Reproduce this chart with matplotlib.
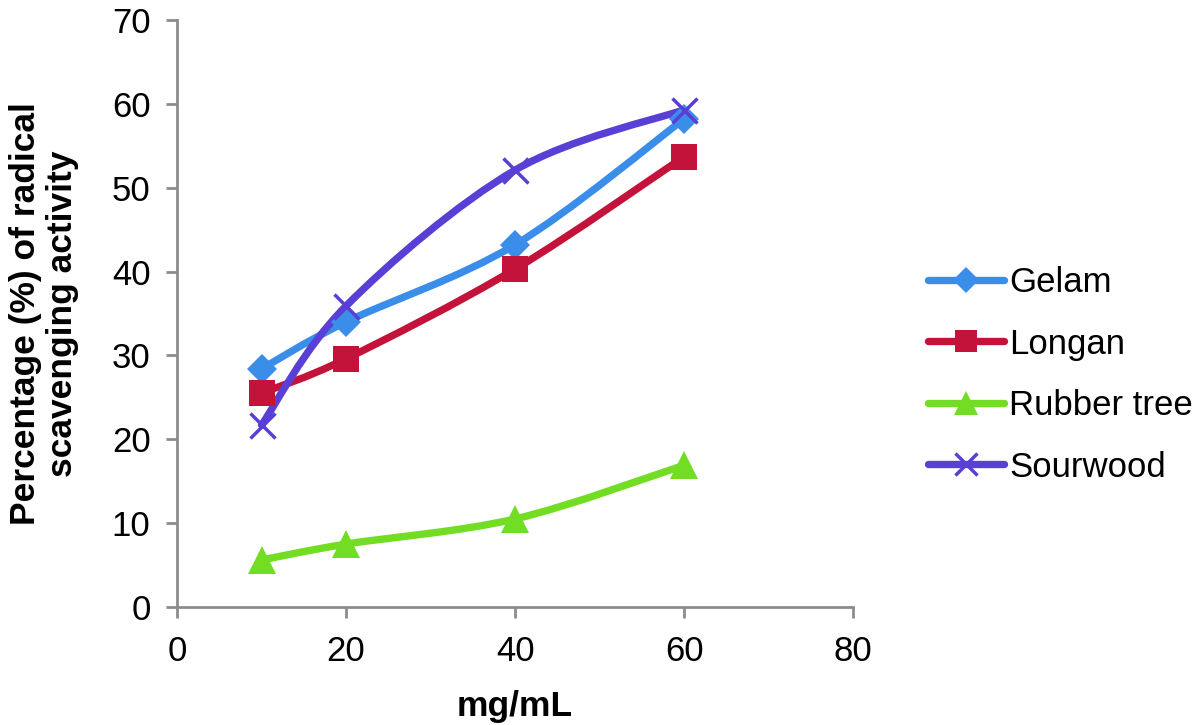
import numpy as np
import matplotlib.pyplot as plt
from matplotlib.path import Path
from matplotlib.patches import PathPatch
from matplotlib.lines import Line2D

plt.rcParams['font.family'] = ['Liberation Sans', 'DejaVu Sans']

# datos
conc = [10, 20, 40, 60]
gelam = [28.4, 34.0, 43.2, 58.2]
longan = [25.5, 29.6, 40.3, 53.7]
rubber = [5.6, 7.5, 10.5, 16.9]
sourwood = [21.7, 35.9, 52.1, 59.3]

names = ['Gelam', 'Longan', 'Rubber tree', 'Sourwood']
series = [gelam, longan, rubber, sourwood]
colors = ['#3A8EEA', '#C3133A', '#72DD22', '#5A3FD6']
markers = ['D', 's', '^', 'x']
msizes = [15, 19, 20, 18]


def smooth_path(x, y):
    # curva bezier estilo Excel (puntos de control tipo Catmull-Rom)
    pts = np.column_stack([x, y]).astype(float)
    ext = np.vstack([pts[0], pts, pts[-1]])
    verts = [pts[0]]
    codes = [Path.MOVETO]
    for i in range(len(pts) - 1):
        p0, p1, p2, p3 = ext[i], ext[i + 1], ext[i + 2], ext[i + 3]
        c1 = p1 + (p2 - p0) / 6.0
        c2 = p2 - (p3 - p1) / 6.0
        verts += [c1, c2, p2]
        codes += [Path.CURVE4] * 3
    return Path(verts, codes)


fig = plt.figure(figsize=(12, 7.25), dpi=100)
ax = fig.add_axes([0.1475, 0.1628, 0.5635, 0.8096])

handles = []
for name, vals, c, m, ms in zip(names, series, colors, markers, msizes):
    ax.add_patch(PathPatch(smooth_path(conc, vals), fill=False, edgecolor=c,
                           lw=5.3, capstyle='round', joinstyle='round', zorder=2))
    mew = 2.5 if m == 'x' else 0
    ax.plot(conc, vals, linestyle='none', marker=m, ms=ms, color=c,
            mec=c, mew=mew, zorder=3)
    handles.append(Line2D([], [], color=c, lw=5.3, solid_capstyle='round',
                          marker=m, ms=ms * 0.85, mec=c, mew=mew))

ax.set_xlim(0, 80)
ax.set_ylim(0, 70)
ax.set_xticks([0, 20, 40, 60, 80])
ax.set_yticks(range(0, 71, 10))

for s in ['top', 'right']:
    ax.spines[s].set_visible(False)
for s in ['left', 'bottom']:
    ax.spines[s].set_color('#8c8c8c')
    ax.spines[s].set_linewidth(2)
ax.tick_params(colors='#8c8c8c', labelcolor='black', width=2, length=8,
               labelsize=25, direction='out')
ax.tick_params(axis='x', pad=12)
ax.tick_params(axis='y', pad=11)

ax.set_xlabel('mg/mL', fontsize=25.5, fontweight='bold', labelpad=16)
ax.set_ylabel('Percentage (%) of radical\nscavenging activity', fontsize=25.5,
              fontweight='bold', labelpad=24, linespacing=1.12)

fig.legend(handles, names, loc='center left', bbox_to_anchor=(0.747, 0.483),
           frameon=False, fontsize=25, handlelength=2.2, handletextpad=0.15,
           labelspacing=0.82)

fig.savefig('out.png', dpi=100)
